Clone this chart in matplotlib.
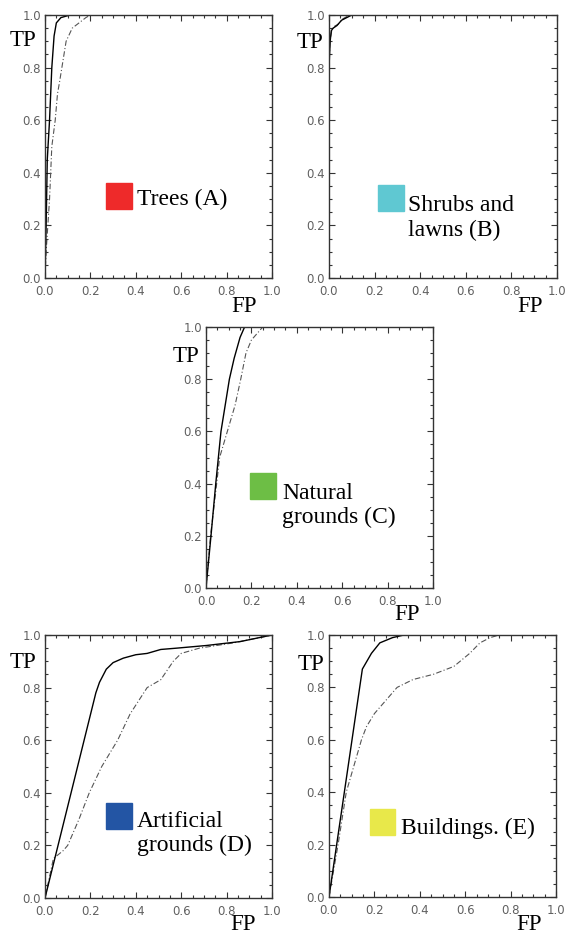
import matplotlib
matplotlib.use('Agg')
import matplotlib.pyplot as plt
from matplotlib.ticker import MultipleLocator
from matplotlib.patches import Rectangle

W, H = 566, 934

# ROC curves (FP, TP): solid and dash-dot
trees_fp = [0.0, 0.005, 0.01, 0.02, 0.03, 0.04, 0.05, 0.07, 0.11, 1.0]
trees_tp = [0.0, 0.2, 0.45, 0.6, 0.8, 0.92, 0.97, 0.99, 1.0, 1.0]
trees_fp2 = [0.0, 0.005, 0.02, 0.03, 0.045, 0.055, 0.065, 0.093, 0.12, 0.15, 0.18, 0.2, 1.0]
trees_tp2 = [0.0, 0.1, 0.3, 0.5, 0.6, 0.7, 0.75, 0.9, 0.95, 0.97, 0.99, 1.0, 1.0]

shrubs_fp = [0.0, 0.0, 0.005, 0.01, 0.018, 0.035, 0.055, 0.1, 1.0]
shrubs_tp = [0.0, 0.8, 0.9, 0.94, 0.95, 0.96, 0.98, 1.0, 1.0]
shrubs_fp2 = [0.0, 0.0, 0.004, 0.012, 0.02, 0.04, 0.06, 0.09, 1.0]
shrubs_tp2 = [0.2, 0.8, 0.9, 0.94, 0.955, 0.965, 0.985, 1.0, 1.0]

natural_fp = [0.0, 0.022, 0.043, 0.066, 0.103, 0.124, 0.15, 0.17, 1.0]
natural_tp = [0.0, 0.2, 0.4, 0.6, 0.8, 0.88, 0.96, 1.0, 1.0]
natural_fp2 = [0.0, 0.02, 0.047, 0.06, 0.094, 0.128, 0.153, 0.176, 0.2, 0.25, 1.0]
natural_tp2 = [0.0, 0.2, 0.4, 0.5, 0.6, 0.7, 0.8, 0.9, 0.95, 1.0, 1.0]

artificial_fp = [0.0, 0.224, 0.24, 0.27, 0.3, 0.345, 0.4, 0.45, 0.51, 0.58, 0.71, 0.86, 1.0]
artificial_tp = [0.0, 0.78, 0.82, 0.87, 0.895, 0.912, 0.925, 0.93, 0.945, 0.95, 0.96, 0.975, 1.0]
artificial_fp2 = [0.0, 0.037, 0.08, 0.1, 0.15, 0.195, 0.25, 0.32, 0.375, 0.45, 0.51, 0.565, 0.6, 0.68, 0.83, 1.0]
artificial_tp2 = [0.0, 0.15, 0.18, 0.2, 0.3, 0.4, 0.5, 0.6, 0.7, 0.8, 0.83, 0.9, 0.93, 0.95, 0.97, 1.0]

buildings_fp = [0.0, 0.147, 0.187, 0.224, 0.28, 0.33, 1.0]
buildings_tp = [0.0, 0.87, 0.93, 0.97, 0.99, 1.0, 1.0]
buildings_fp2 = [0.0, 0.04, 0.076, 0.143, 0.165, 0.2, 0.25, 0.3, 0.37, 0.46, 0.55, 0.62, 0.665, 0.71, 0.75, 1.0]
buildings_tp2 = [0.0, 0.2, 0.4, 0.6, 0.65, 0.7, 0.75, 0.8, 0.83, 0.85, 0.88, 0.93, 0.97, 0.99, 1.0, 1.0]

labels = ['Trees (A)', 'Shrubs and\nlawns (B)', 'Natural\ngrounds (C)',
          'Artificial\ngrounds (D)', 'Buildings. (E)']
colors = ['#ee2a2a', '#5fc8d2', '#6dbe45', '#2355a4', '#e8e84a']

curves = [(trees_fp, trees_tp, trees_fp2, trees_tp2),
          (shrubs_fp, shrubs_tp, shrubs_fp2, shrubs_tp2),
          (natural_fp, natural_tp, natural_fp2, natural_tp2),
          (artificial_fp, artificial_tp, artificial_fp2, artificial_tp2),
          (buildings_fp, buildings_tp, buildings_fp2, buildings_tp2)]

# layout: panel boxes in pixels (left, top, right, bottom)
boxes = [(45, 15, 272, 278), (329, 15, 557, 278), (206, 327, 433, 588),
         (45, 635, 272, 898), (329, 635, 556, 897)]
# legend square (left, top) and text (x, center y) in axes fractions
squares = [(0.27, 0.36), (0.215, 0.354), (0.194, 0.44), (0.27, 0.36), (0.18, 0.336)]
texts = [(0.405, 0.297), (0.346, 0.228), (0.335, 0.315), (0.405, 0.245), (0.317, 0.263)]
# TP (left, center y) and FP (right, center y) in pixels
tp_pos = [(10, 40), (297, 42), (173, 357), (10, 663), (298, 665)]
fp_pos = [(257, 306), (543, 306), (420, 615), (256, 925), (542, 924)]

serif = ['Liberation Serif', 'DejaVu Serif']

fig = plt.figure(figsize=(W / 100, H / 100), dpi=100)

for i, (l, t, r, b) in enumerate(boxes):
    ax = fig.add_axes([l / W, 1 - b / H, (r - l) / W, (b - t) / H])
    fp, tp, fp2, tp2 = curves[i]
    ax.plot(fp2, tp2, color='#555555', lw=0.8, ls=(0, (5, 2, 1, 2)))
    ax.plot(fp, tp, color='black', lw=1.0)
    ax.set_xlim(0, 1)
    ax.set_ylim(0, 1)
    ax.xaxis.set_major_locator(MultipleLocator(0.2))
    ax.yaxis.set_major_locator(MultipleLocator(0.2))
    ax.xaxis.set_minor_locator(MultipleLocator(0.05))
    ax.yaxis.set_minor_locator(MultipleLocator(0.05))
    ax.tick_params(which='both', direction='in', top=True, right=True,
                   color='#333333', width=0.8)
    ax.tick_params(which='major', length=4.5, labelsize=8.5, labelcolor='#606060')
    ax.tick_params(which='minor', length=2.5)
    ax.tick_params(axis='x', which='major', pad=5)
    ax.tick_params(axis='y', which='major', pad=3)
    ax.xaxis.set_major_formatter(plt.FormatStrFormatter('%.1f'))
    ax.yaxis.set_major_formatter(plt.FormatStrFormatter('%.1f'))
    for s in ax.spines.values():
        s.set_color('#333333')
        s.set_linewidth(1.0)

    sx, sy = squares[i]
    side_h = 26 / (b - t)
    side_w = 25.5 / (r - l)
    ax.add_patch(Rectangle((sx, sy - side_h), side_w, side_h,
                           color=colors[i], zorder=3))
    lx, ly = texts[i]
    ax.text(lx, ly, labels[i], family=serif, fontsize=17, va='center',
            ha='left', linespacing=1.2)

    tx, ty = tp_pos[i]
    fig.text(tx / W, 1 - ty / H, 'TP', family=serif, fontsize=16.5,
             ha='left', va='center')
    fx, fy = fp_pos[i]
    fig.text(fx / W, 1 - fy / H, 'FP', family=serif, fontsize=16.5,
             ha='right', va='center')

fig.savefig('out.png', dpi=100)
